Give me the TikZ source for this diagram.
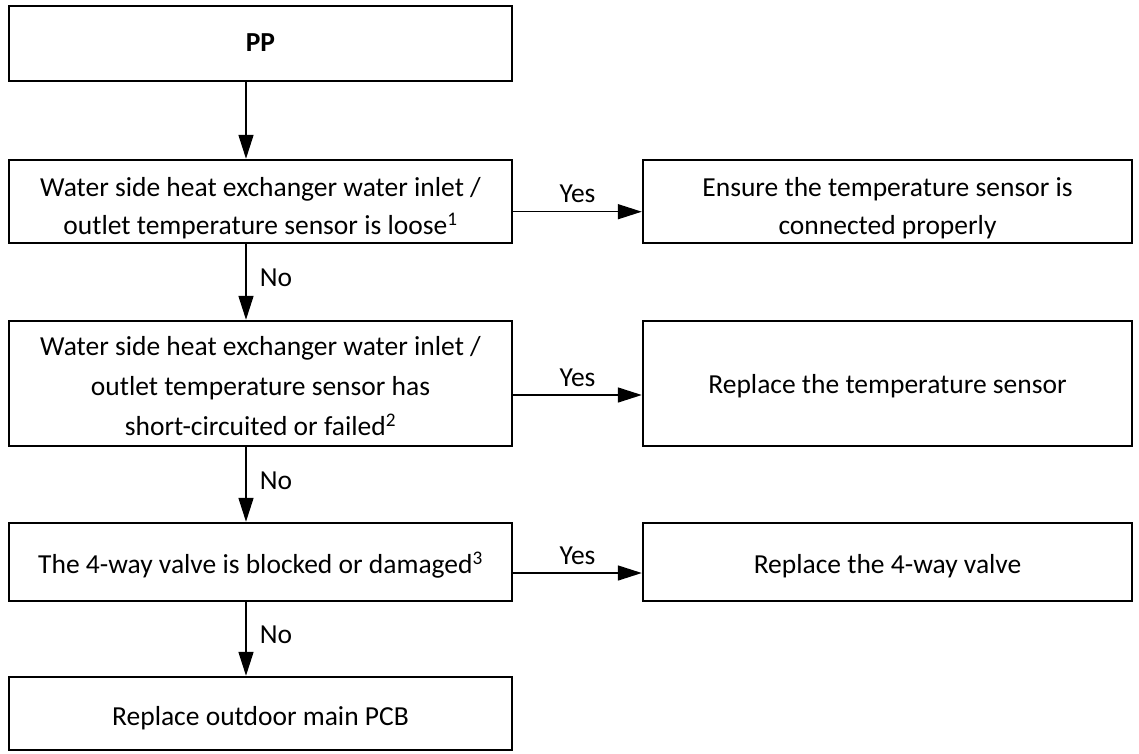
\documentclass[tikz,border=0pt]{standalone}
\usepackage{fontspec}
\setmainfont{Carlito}
\usetikzlibrary{arrows.meta}
\newcommand\bxt[2]{\raisebox{\dimexpr -#1-6.875pt\relax}[0pt][0pt]{\begin{tabular}{@{}c@{}}#2\end{tabular}}}
\begin{document}
\begin{tikzpicture}[x=1pt,y=-1pt,
  box/.style={draw,line width=2.4pt,rectangle,inner sep=0pt,
    font=\fontsize{27.5}{38}\selectfont},
  arr/.style={line width=1.5pt,-{Triangle[length=24pt,width=15pt]}},
  lbl/.style={font=\fontsize{27.5}{32}\selectfont,inner sep=0pt}]
\useasboundingbox (0,0) rectangle (1139,753);
\node[box,minimum width=503pt,minimum height=75pt] (pp) at (260.5,43.5) {\bxt{0pt}{\textbf{PP}}};
\node[box,minimum width=503pt,minimum height=83pt] (b1) at (260.5,201.5)
  {\bxt{6pt}{Water side heat exchanger water inlet /\\outlet temperature sensor is loose\textsuperscript{1}}};
\node[box,minimum width=489pt,minimum height=83pt] (r1) at (887.5,201.5)
  {\bxt{6pt}{Ensure the temperature sensor is\\connected properly}};
\node[box,minimum width=503pt,minimum height=125pt,font=\fontsize{27.5}{40}\selectfont] (b2) at (260.5,383.5)
  {\bxt{3pt}{Water side heat exchanger water inlet /\\outlet temperature sensor has\\short-circuited or failed\textsuperscript{2}}};
\node[box,minimum width=489pt,minimum height=125pt] (r2) at (887.5,383.5)
  {\bxt{2pt}{Replace the temperature sensor}};
\node[box,minimum width=503pt,minimum height=78pt] (b3) at (260.5,562)
  {\bxt{3pt}{The 4-way valve is blocked or damaged\textsuperscript{3}}};
\node[box,minimum width=489pt,minimum height=78pt] (r3) at (887.5,562)
  {\bxt{3pt}{Replace the 4-way valve}};
\node[box,minimum width=503pt,minimum height=73pt] (b4) at (260.5,713.5)
  {\bxt{4pt}{Replace outdoor main PCB}};
\coordinate (ax) at (246,0);
\draw[arr] (pp.south -| ax) -- (b1.north -| ax);
\draw[arr] (b1.south -| ax) -- node[lbl,right=13pt,yshift=4pt,pos=0.5] (n1) {No} (b2.north -| ax);
\draw[arr] (b2.south -| ax) -- node[lbl,right=13pt,yshift=4pt,pos=0.5] (n2) {No} (b3.north -| ax);
\draw[arr] (b3.south -| ax) -- node[lbl,right=13pt,yshift=4pt,pos=0.5] (n3) {No} (b4.north -| ax);
\coordinate (y1) at (0,211.7);
\coordinate (y2) at (0,395);
\coordinate (y3) at (0,573);
\draw[arr] (b1.east |- y1) -- node[lbl,above=8pt,pos=0.5] (l1) {Yes} (r1.west |- y1);
\draw[arr] (b2.east |- y2) -- node[lbl,above=8pt,pos=0.5] (l2) {Yes} (r2.west |- y2);
\draw[arr] (b3.east |- y3) -- node[lbl,above=8pt,pos=0.5] (l3) {Yes} (r3.west |- y3);
\end{tikzpicture}
\end{document}
